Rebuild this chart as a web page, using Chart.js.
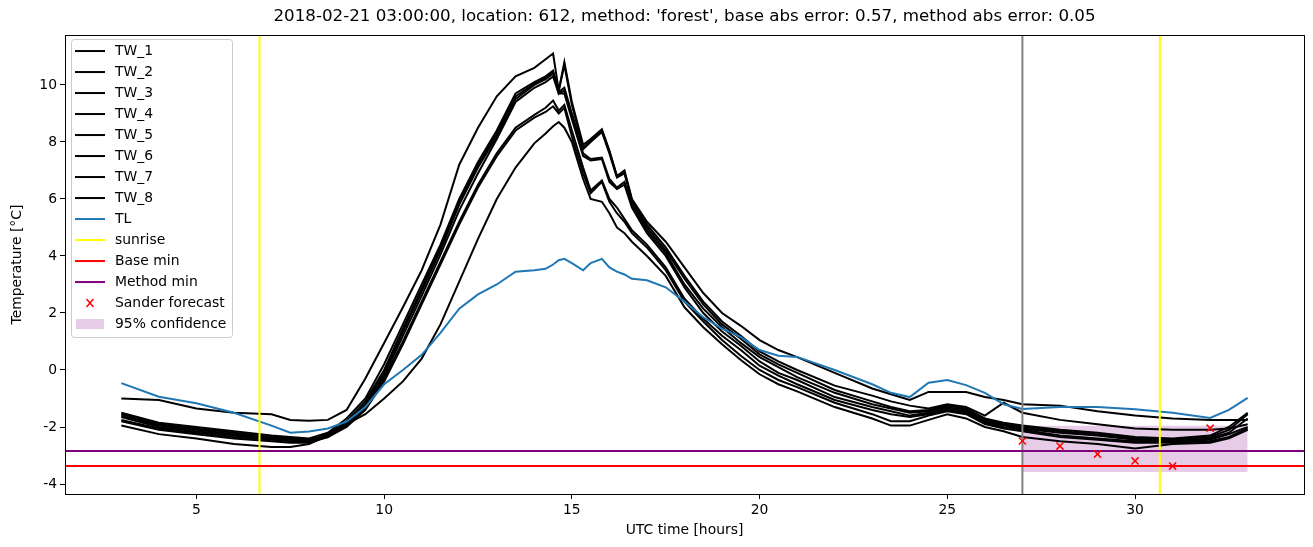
<!DOCTYPE html>
<html>
<head>
<meta charset="utf-8">
<script src="https://cdn.jsdelivr.net/npm/chart.js@4.4.1/dist/chart.umd.min.js"></script>
<style>
  html, body { margin: 0; padding: 0; background: #fff; }
  canvas { display: block; }
</style>
</head>
<body>
<canvas id="graficoTemp" width="1313" height="547"></canvas>
<script>
// horas UTC (desde el inicio del dia anterior)
const horas = [3, 4, 5, 6, 7, 7.5, 8, 8.5, 9, 9.5, 10, 10.5, 11, 11.5, 12, 12.5, 13, 13.5, 14, 14.3,
  14.5, 14.65, 14.8, 15, 15.3, 15.5, 15.8, 16, 16.2, 16.4, 16.6, 17, 17.5, 18, 18.5, 19, 19.5, 20, 20.5, 21,
  22, 23, 23.5, 24, 24.5, 25, 25.5, 26, 26.5, 27, 28, 29, 30, 31, 32, 32.5, 33];

const tw1 = [-1.0, -1.05, -1.35, -1.5, -1.55, -1.75, -1.78, -1.75, -1.4, -0.3, 0.95, 2.2, 3.5, 5.1, 7.2, 8.5, 9.6, 10.3, 10.6, 10.9,
  11.1, 9.8, 10.8, 9.4, 7.9, 8.1, 8.45, 7.7, 6.8, 7.0, 6.0, 5.2, 4.5, 3.6, 2.7, 2.0, 1.55, 1.05, 0.7, 0.45,
  -0.1, -0.65, -0.85, -1.05, -0.77, -0.77, -0.77, -0.95, -1.05, -1.2, -1.25, -1.45, -1.6, -1.7, -1.75, -1.75, -1.75];
const tw2 = [-1.5, -1.85, -2.0, -2.15, -2.3, -2.35, -2.4, -2.2, -1.7, -1.0, 0.2, 1.6, 3.0, 4.4, 6.0, 7.3, 8.4, 9.7, 10.1, 10.3,
  10.5, 9.8, 10.7, 9.3, 7.8, 8.05, 8.4, 7.65, 6.8, 6.95, 5.95, 5.1, 4.3, 3.3, 2.4, 1.7, 1.2, 0.65, 0.3, 0.0,
  -0.55, -0.9, -1.1, -1.25, -1.35, -1.2, -1.3, -1.6, -1.15, -1.5, -1.75, -1.9, -2.05, -2.1, -2.1, -2.05, -1.9];
const tw3 = [-1.55, -1.9, -2.05, -2.2, -2.35, -2.4, -2.45, -2.25, -1.8, -1.1, 0.0, 1.45, 2.85, 4.3, 5.9, 7.2, 8.3, 9.6, 10.05, 10.25,
  10.45, 9.75, 9.9, 9.0, 7.75, 8.0, 8.35, 7.6, 6.75, 6.9, 5.9, 5.0, 4.2, 3.2, 2.3, 1.6, 1.1, 0.55, 0.2, -0.1,
  -0.7, -1.1, -1.3, -1.45, -1.4, -1.25, -1.35, -1.7, -1.85, -1.95, -2.1, -2.2, -2.35, -2.4, -2.3, -2.0, -1.5];
const tw4 = [-1.6, -1.95, -2.1, -2.25, -2.35, -2.4, -2.45, -2.3, -1.85, -1.2, -0.1, 1.35, 2.75, 4.2, 5.8, 7.1, 8.2, 9.5, 10.0, 10.2,
  10.4, 9.7, 9.8, 8.9, 7.6, 7.4, 7.45, 6.7, 6.4, 6.6, 5.8, 4.9, 4.1, 3.0, 2.15, 1.5, 0.95, 0.45, 0.1, -0.25,
  -0.8, -1.2, -1.35, -1.5, -1.45, -1.3, -1.4, -1.75, -1.9, -2.0, -2.15, -2.25, -2.4, -2.45, -2.35, -2.1, -1.55];
const tw5 = [-1.65, -2.0, -2.15, -2.3, -2.4, -2.45, -2.5, -2.3, -1.9, -1.3, -0.2, 1.2, 2.6, 4.05, 5.6, 6.9, 8.1, 9.4, 9.9, 10.1,
  10.3, 9.7, 9.7, 8.8, 7.5, 7.35, 7.4, 6.6, 6.35, 6.5, 5.7, 4.8, 4.0, 2.9, 2.0, 1.35, 0.85, 0.3, -0.1, -0.35,
  -0.95, -1.3, -1.45, -1.6, -1.5, -1.35, -1.45, -1.8, -1.95, -2.05, -2.2, -2.3, -2.45, -2.5, -2.4, -2.2, -1.7];
const tw6 = [-1.75, -2.05, -2.2, -2.35, -2.45, -2.5, -2.5, -2.35, -1.95, -1.35, -0.3, 1.0, 2.4, 3.8, 5.2, 6.5, 7.6, 8.5, 8.95, 9.2,
  9.45, 9.1, 9.3, 8.4, 7.1, 6.3, 6.65, 6.0, 5.7, 5.3, 4.9, 4.4, 3.6, 2.5, 1.8, 1.2, 0.7, 0.15, -0.2, -0.5,
  -1.05, -1.4, -1.55, -1.65, -1.55, -1.4, -1.5, -1.85, -2.0, -2.1, -2.3, -2.4, -2.5, -2.5, -2.45, -2.25, -2.0];
const tw7 = [-1.8, -2.1, -2.25, -2.4, -2.5, -2.55, -2.55, -2.35, -2.0, -1.4, -0.4, 0.9, 2.3, 3.7, 5.1, 6.4, 7.5, 8.4, 8.85, 9.05,
  9.25, 9.0, 9.2, 8.2, 6.9, 6.2, 6.6, 5.9, 5.5, 5.2, 4.8, 4.3, 3.5, 2.4, 1.7, 1.05, 0.5, 0.0, -0.35, -0.6,
  -1.15, -1.55, -1.8, -1.8, -1.6, -1.45, -1.55, -1.9, -2.05, -2.15, -2.35, -2.45, -2.55, -2.55, -2.5, -2.35, -2.05];
const tw8 = [-1.95, -2.25, -2.4, -2.6, -2.7, -2.7, -2.6, -2.3, -1.9, -1.55, -1.0, -0.4, 0.4, 1.6, 3.1, 4.6, 6.0, 7.1, 7.95, 8.3,
  8.55, 8.7, 8.5, 8.0, 6.7, 6.0, 5.9, 5.5, 5.0, 4.8, 4.5, 4.0, 3.3, 2.2, 1.5, 0.9, 0.35, -0.15, -0.5, -0.75,
  -1.3, -1.7, -1.95, -1.95, -1.75, -1.55, -1.7, -2.0, -2.15, -2.35, -2.5, -2.6, -2.75, -2.6, -2.55, -2.4, -2.1];
const tl = [-0.46, -0.94, -1.17, -1.5, -1.95, -2.2, -2.16, -2.05, -1.81, -1.3, -0.5, 0.0, 0.53, 1.3, 2.15, 2.65, 3.0, 3.45, 3.5, 3.55,
  3.7, 3.85, 3.9, 3.75, 3.5, 3.75, 3.9, 3.6, 3.45, 3.35, 3.2, 3.15, 2.9, 2.4, 1.85, 1.45, 1.15, 0.7, 0.5, 0.46,
  0.0, -0.5, -0.8, -0.95, -0.45, -0.35, -0.53, -0.8, -1.2, -1.37, -1.3, -1.3, -1.38, -1.5, -1.68, -1.4, -0.98];

const amanecer = [6.68, 30.66];
const horaPronostico = 27;
const baseMin = -3.37;
const metodoMin = -2.84;
const sanderHoras = [27, 28, 29, 30, 31, 32];
const sanderValores = [-2.49, -2.67, -2.95, -3.19, -3.37, -2.04];
const confHoras = [27, 33];
const confAlto = -1.96;
const confBajo = -3.58;
const xTicks = [5, 10, 15, 20, 25, 30];
const yTicks = [-4, -2, 0, 2, 4, 6, 8, 10];

const fuente = 'DejaVu Sans';
const tamTexto = 13.9;
const serieTW = [tw1, tw2, tw3, tw4, tw5, tw6, tw7, tw8];

const datasets = [];
serieTW.forEach((v, i) => {
  datasets.push({
    label: 'TW_' + (i + 1),
    data: horas.map((h, k) => ({ x: h, y: v[k] })),
    borderColor: '#000000',
    borderWidth: 2
  });
});
datasets.push({
  label: 'TL',
  data: horas.map((h, k) => ({ x: h, y: tl[k] })),
  borderColor: '#1f77b4',
  borderWidth: 2
});
// lineas verticales (cortadas por el area del grafico)
const vert = [];
amanecer.forEach((h, i) => {
  if (i > 0) vert.push({ x: h, y: null });
  vert.push({ x: h, y: -50 }, { x: h, y: 50 });
});
datasets.push({ label: 'sunrise', data: vert, borderColor: '#ffff00', borderWidth: 2, spanGaps: false });
datasets.push({ data: [{ x: horaPronostico, y: -50 }, { x: horaPronostico, y: 50 }], borderColor: '#808080', borderWidth: 2 });
datasets.push({ label: 'Base min', data: [{ x: -10, y: baseMin }, { x: 50, y: baseMin }], borderColor: '#ff0000', borderWidth: 2 });
datasets.push({ label: 'Method min', data: [{ x: -10, y: metodoMin }, { x: 50, y: metodoMin }], borderColor: '#800080', borderWidth: 2 });
datasets.push({
  label: 'Sander forecast',
  data: sanderHoras.map((h, k) => ({ x: h, y: sanderValores[k] })),
  showLine: false,
  pointStyle: 'crossRot',
  pointRadius: 5,
  borderColor: '#ff0000',
  borderWidth: 1.5
});
datasets.push({
  data: confHoras.map(h => ({ x: h, y: confBajo })),
  borderWidth: 0, borderColor: 'rgba(0,0,0,0)'
});
datasets.push({
  label: '95% confidence',
  data: confHoras.map(h => ({ x: h, y: confAlto })),
  borderWidth: 0, borderColor: 'rgba(0,0,0,0)',
  fill: '-1',
  backgroundColor: 'rgba(128,0,128,0.2)'
});
// orden de dibujo como matplotlib: lo ultimo queda encima, relleno al fondo
datasets.forEach((d, i) => {
  d.order = d.fill ? 1000 : (d.label === undefined && i === datasets.length - 2 ? 1001 : datasets.length - i);
  if (d.pointRadius === undefined) d.pointRadius = 0;
  d.tension = 0;
  d.clip = 0;
});

const marcoEjes = {
  id: 'marcoEjes',
  afterDatasetsDraw(chart) {
    const { ctx, chartArea: a } = chart;
    ctx.save();
    ctx.strokeStyle = '#000';
    ctx.lineWidth = 1;
    ctx.strokeRect(Math.round(a.left) + 0.5, Math.round(a.top) + 0.5, Math.round(a.right - a.left), Math.round(a.bottom - a.top));
    ctx.restore();
  }
};

const leyendaInterior = {
  id: 'leyendaInterior',
  afterDraw(chart) {
    const { ctx, chartArea: a } = chart;
    const items = chart.data.datasets.filter(d => d.label);
    const paso = 21;
    const x0 = a.left + 6, y0 = a.top + 4;
    const ancho = 161, alto = items.length * paso + 4;
    ctx.save();
    ctx.fillStyle = 'rgba(255,255,255,0.8)';
    ctx.strokeStyle = '#cccccc';
    ctx.lineWidth = 1;
    ctx.beginPath();
    ctx.roundRect(x0 + 0.5, y0 + 0.5, ancho, alto, 3);
    ctx.fill();
    ctx.stroke();
    ctx.font = tamTexto + 'px "' + fuente + '"';
    ctx.textBaseline = 'middle';
    items.forEach((d, i) => {
      const y = y0 + 12 + i * paso;
      if (d.fill) {
        ctx.fillStyle = d.backgroundColor;
        ctx.fillRect(x0 + 5, y - 5, 28, 10);
      } else if (d.showLine === false) {
        ctx.strokeStyle = d.borderColor;
        ctx.lineWidth = 1.5;
        ctx.beginPath();
        ctx.moveTo(x0 + 15.5, y - 4); ctx.lineTo(x0 + 22.5, y + 4);
        ctx.moveTo(x0 + 15.5, y + 4); ctx.lineTo(x0 + 22.5, y - 4);
        ctx.stroke();
      } else {
        ctx.strokeStyle = d.borderColor;
        ctx.lineWidth = 2;
        ctx.beginPath();
        ctx.moveTo(x0 + 4, y); ctx.lineTo(x0 + 34, y);
        ctx.stroke();
      }
      ctx.fillStyle = '#000';
      ctx.fillText(d.label, x0 + 44, y);
    });
    ctx.restore();
  }
};

new Chart(document.getElementById('graficoTemp'), {
  type: 'line',
  data: { datasets: datasets },
  plugins: [marcoEjes, leyendaInterior],
  options: {
    responsive: false,
    animation: false,
    devicePixelRatio: 1,
    layout: { padding: { left: 0, right: 9, top: 0, bottom: 0 } },
    plugins: {
      legend: { display: false },
      tooltip: { enabled: false },
      title: {
        display: true,
        fullSize: false,
        text: "2018-02-21 03:00:00, location: 612, method: 'forest', base abs error: 0.57, method abs error: 0.05",
        color: '#000',
        font: { family: fuente, size: 16.7, weight: 'normal' },
        padding: { top: 7, bottom: 8 }
      }
    },
    scales: {
      x: {
        type: 'linear',
        min: 1.5,
        max: 34.5,
        afterBuildTicks: s => { s.ticks = xTicks.map(v => ({ value: v })); },
        afterFit: s => { s.height = 53; },
        grid: { display: true, drawOnChartArea: false, drawTicks: true, tickLength: 5, color: '#000' },
        border: { display: false },
        ticks: { color: '#000', padding: 3, font: { family: fuente, size: tamTexto }, maxRotation: 0 },
        title: { display: true, text: 'UTC time [hours]', color: '#000', font: { family: fuente, size: tamTexto }, padding: { top: 0, bottom: 8.5 } }
      },
      y: {
        type: 'linear',
        min: -4.35,
        max: 11.75,
        afterBuildTicks: s => { s.ticks = yTicks.map(v => ({ value: v })); },
        afterFit: s => { s.width = 65; },
        grid: { display: true, drawOnChartArea: false, drawTicks: true, tickLength: 5, color: '#000' },
        border: { display: false },
        ticks: { color: '#000', padding: 3, font: { family: fuente, size: tamTexto } },
        title: { display: true, text: 'Temperature [\u00b0C]', color: '#000', font: { family: fuente, size: tamTexto }, padding: { top: 9.5, bottom: 0 } }
      }
    }
  }
});
</script>
</body>
</html>
